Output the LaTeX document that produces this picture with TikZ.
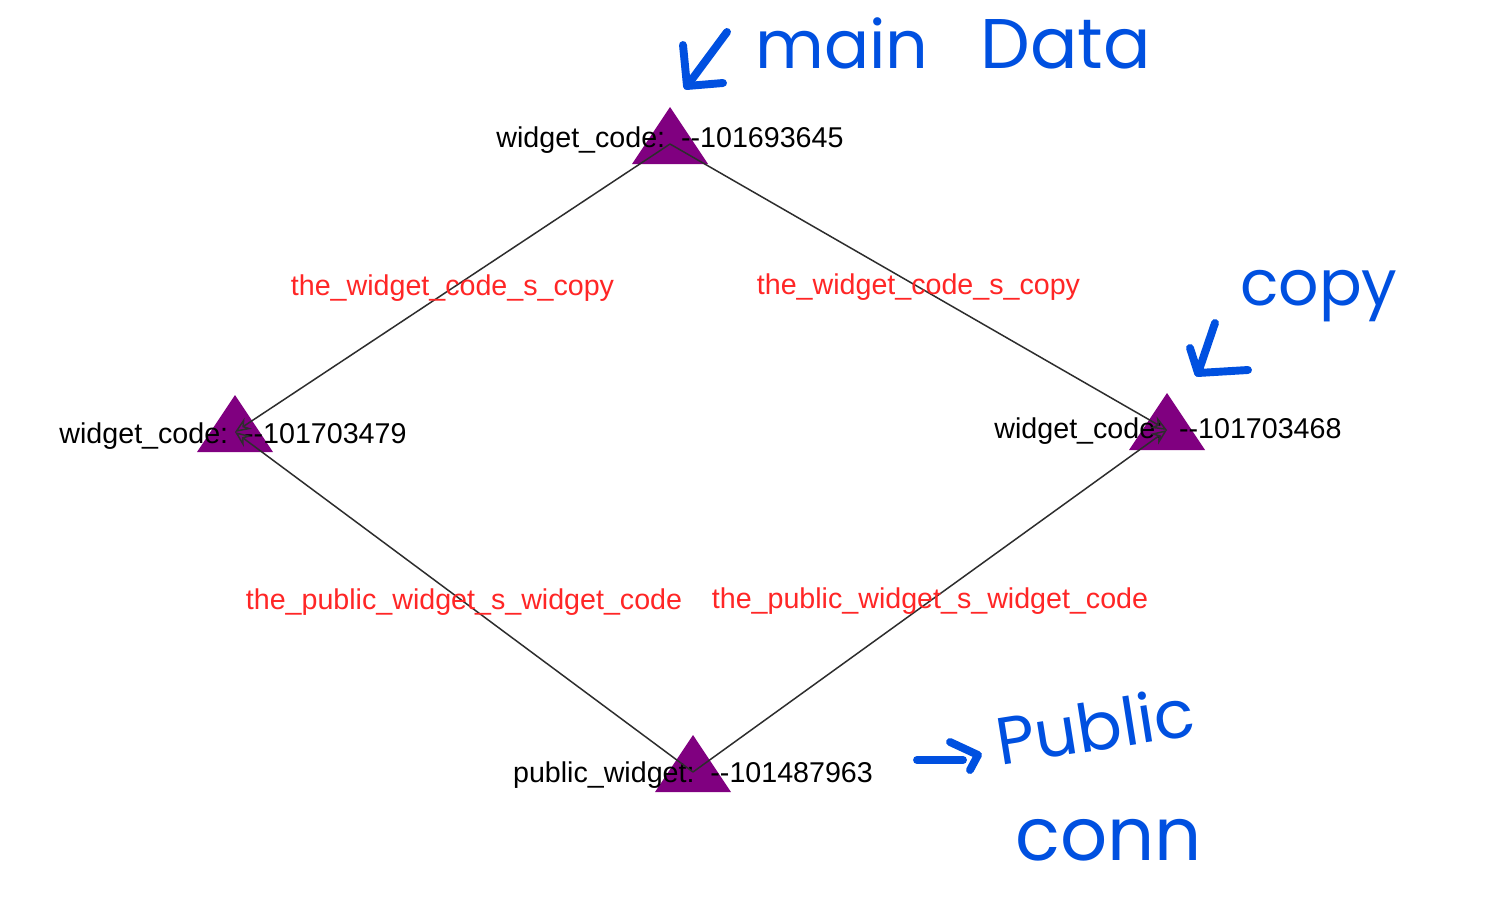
\documentclass[tikz,border=0pt]{standalone}
\usepackage{fontspec}
\setmainfont{Liberation Sans}
\newfontfamily\inkfont{Poppins}
\usetikzlibrary{arrows.meta}
\definecolor{vertexpurple}{RGB}{128,0,128}
\definecolor{edgegray}{RGB}{45,45,45}
\definecolor{edgered}{RGB}{255,38,38}
\definecolor{inkblue}{RGB}{0,80,224}

\begin{document}
\begin{tikzpicture}[x=0.02cm, y=-0.02cm]
  \tikzset{vertex/.style={fill=vertexpurple},
           edge/.style={draw=edgegray, line width=0.85pt},
           arc/.style={edge, -{Stealth[open, length=9pt, width=7.5pt]}},
           vlabel/.style={inner sep=0pt, anchor=base, text=black,
                          font=\fontsize{16.3}{19}\selectfont},
           elabel/.style={inner sep=0pt, text=edgered,
                          font=\fontsize{16.3}{19}\selectfont},
           ink/.style={draw=inkblue, line width=4.5pt, line cap=round, line join=round},
           inktext/.style={inner sep=0pt, anchor=base west, text=inkblue}}

  \fill[white] (0,0) rectangle (1508,900);
  \useasboundingbox (0,0) rectangle (1508,900);

  % vertices
  \coordinate (main) at (670,144);
  \coordinate (copyl) at (235,432);
  \coordinate (copyr) at (1167,430);
  \coordinate (pub) at (693,772);

  \foreach \v in {main, copyl, copyr, pub}
    \fill[vertex, shift={(\v)}] (-38,20) -- (0,-37) -- (38,20) -- cycle;

  % vertex labels
  \node[vlabel] (mainlbl) at (670,147) {widget\_code:\ \ -{}-101693645};
  \node[vlabel] (copyllbl) at (233,443) {widget\_code:\ \ -{}-101703479};
  \node[vlabel] (copyrlbl) at (1168,438) {widget\_code:\ \ -{}-101703468};
  \node[vlabel] (publbl) at (693,782) {public\_widget:\ \ -{}-101487963};

  % edges
  \draw[arc] (main) -- node[elabel] (mainl) {the\_widget\_code\_s\_copy} (copyl);
  \draw[arc] (main) -- node[elabel] (mainr) {the\_widget\_code\_s\_copy} (copyr);
  \draw[arc] (pub) -- node[elabel] (publ) {the\_public\_widget\_s\_widget\_code} (copyl);
  \draw[arc] (pub) -- node[elabel] (pubr) {the\_public\_widget\_s\_widget\_code} (copyr);

  % hand notes
  \draw[ink] (727,32) -- (687,86);
  \draw[ink] (683,45) -- (687,86) -- (723,83);
  \node[inktext, font=\inkfont\fontsize{38}{38}\selectfont] (inkmain) at (755,68) {main};
  \node[inktext, font=\inkfont\fontsize{40}{40}\selectfont] (inkdata) at (980,68) {Data};

  \draw[ink] (1215,323) -- (1198,373) -- (1248,370);
  \draw[ink] (1190,348) -- (1198,373);
  \node[inktext, font=\inkfont\fontsize{36}{36}\selectfont] (inkcopy) at (1240,305) {copy};

  \draw[ink] (917,760) -- (963,760);
  \draw[ink] (950,742) -- (978,755) -- (970,770);
  \node[inktext, rotate=9, font=\inkfont\fontsize{38}{38}\selectfont] (inkpublic) at (1000,766) {Public};
  \node[inktext, font=\inkfont\fontsize{42}{42}\selectfont] (inkconn) at (1015,860) {conn};
\end{tikzpicture}
\end{document}
